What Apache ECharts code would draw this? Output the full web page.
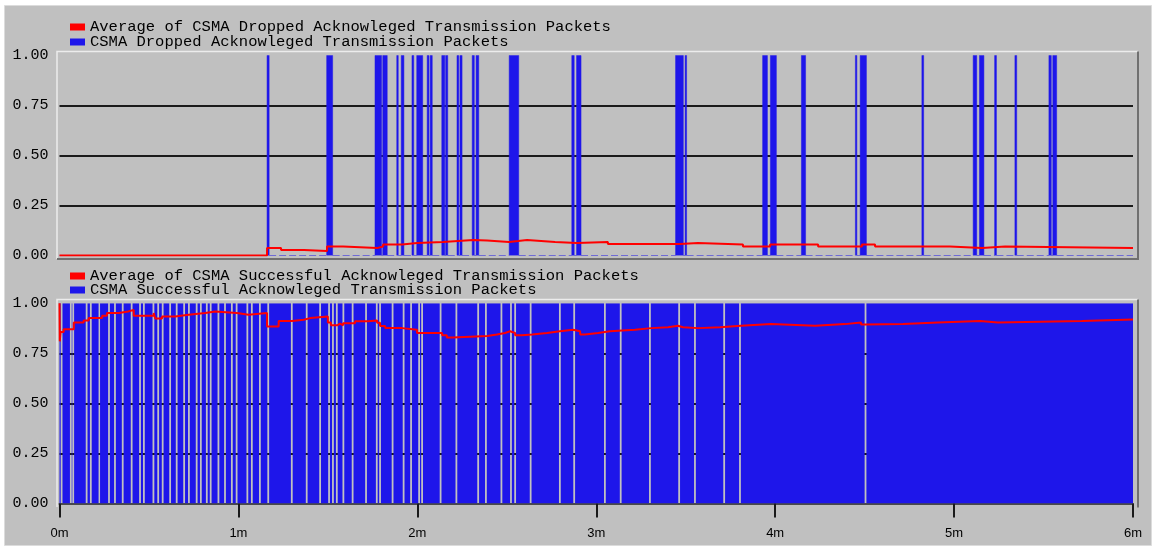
<!DOCTYPE html>
<html>
<head>
<meta charset="utf-8">
<script src="https://cdn.jsdelivr.net/npm/echarts@6/dist/echarts.min.js"></script>
<style>
  html, body { margin: 0; padding: 0; background: #ffffff; }
  #chart { width: 1161px; height: 551px; }
</style>
</head>
<body>
<div id="chart"></div>
<script>
// Simulation time is in seconds; the time axis is labelled in minutes.
const timeTicks = ['0m', '1m', '2m', '3m', '4m', '5m', '6m'];
const yTicks = ['0.00', '0.25', '0.50', '0.75', '1.00'];

const droppedAvgName = 'Average of CSMA Dropped Acknowleged Transmission Packets';
const droppedName = 'CSMA Dropped Acknowleged Transmission Packets';
const successAvgName = 'Average of CSMA Successful Acknowleged Transmission Packets';
const successName = 'CSMA Successful Acknowleged Transmission Packets';

// Intervals (s) during which a dropped acknowledged packet is recorded (value 1).
const dropStart = [69.6, 89.6, 105.8, 108.4, 113.1, 114.6, 118.2, 119.8, 123.3, 124.3, 128.2, 129.5,
  133.3, 134.3, 138.4, 139.7, 150.8, 171.8, 173.4, 206.6, 209.8, 235.8, 238.4, 248.8, 266.9, 268.5,
  289.2, 306.4, 308.5, 313.6, 320.4, 331.8, 333.1];
const dropEnd = [70.3, 91.6, 108.0, 109.9, 113.6, 115.5, 118.8, 121.8, 123.9, 125.0, 129.2, 130.2,
  133.9, 135.0, 139.1, 140.6, 154.0, 172.6, 174.9, 209.2, 210.3, 237.4, 240.4, 250.2, 267.4, 270.6,
  289.8, 307.6, 310.0, 314.2, 321.0, 332.6, 334.4];

// Running average of dropped packets: time (s) of each change and the new value.
const dropAvgTime = [0, 69.6, 74.3, 82.0, 89.7, 95.1, 106.5, 108.5, 114.9, 119.9, 128.6, 138.7, 143.4,
  150.7, 153.8, 156.8, 166.2, 173.5, 183.9, 208.1, 214.1, 229.2, 238.3, 254.4, 269.1, 273.5, 298.6,
  309.4, 317.1, 360];
const dropAvgValue = [0, 0.038, 0.028, 0.022, 0.045, 0.037, 0.045, 0.055, 0.062, 0.068, 0.077, 0.075, 0.068,
  0.072, 0.077, 0.068, 0.062, 0.068, 0.058, 0.062, 0.055, 0.045, 0.055, 0.045, 0.055, 0.045, 0.037,
  0.045, 0.037, 0.037];

// Intervals (s) with no successful acknowledged transmission (value 0); 1 elsewhere.
const okGapStart = [0.4, 3.5, 4.3, 8.8, 10.2, 13.1, 16.3, 18.3, 20.9, 23.9, 26.7, 28.0, 31.2, 32.8, 34.3,
  36.8, 39.0, 41.5, 43.1, 45.7, 47.1, 49.1, 50.4, 53.0, 55.2, 57.5, 59.1, 62.7, 64.2, 66.9, 69.7, 77.6,
  82.6, 87.1, 90.1, 91.4, 92.7, 94.9, 98.0, 102.5, 106.1, 107.2, 111.4, 115.1, 117.6, 120.3, 121.3,
  127.5, 132.8, 140.1, 142.7, 147.9, 151.1, 152.5, 157.7, 167.5, 172.3, 182.6, 187.9, 197.7, 207.5,
  212.8, 222.6, 227.9, 270.0];
const okGapEnd = [1.0, 4.1, 4.9, 9.4, 10.8, 13.6, 16.9, 18.9, 21.5, 24.5, 27.3, 28.6, 31.8, 33.4, 34.9,
  37.4, 39.6, 42.1, 43.7, 46.3, 47.7, 49.7, 51.0, 53.6, 55.8, 58.1, 59.7, 63.3, 64.8, 67.5, 70.3, 78.2,
  83.2, 87.7, 90.7, 92.0, 93.3, 95.5, 98.6, 103.1, 106.7, 107.8, 112.0, 115.7, 118.2, 120.9, 121.9,
  128.1, 133.4, 140.7, 143.3, 148.5, 151.7, 153.1, 158.3, 168.1, 172.9, 183.2, 188.5, 198.3, 208.1,
  213.4, 223.2, 228.5, 270.6];

// Running average of successful packets: time (s) of each change and the new value.
const okAvgTime = [0, 0.1, 0.35, 1.4, 4.8, 8.1, 9.8, 14.3, 15.9, 19.9, 23.0, 24.9, 31.6, 32.1, 34.4,
  38.8, 43.3, 48.9, 52.2, 59.5, 63.4, 69.6, 73.5, 78.0, 81.9, 84.1, 90.0, 91.0, 93.1, 94.1, 95.1, 99.1,
  103.5, 106.5, 107.5, 109.2, 114.9, 119.9, 128.3, 129.9, 131.9, 143.4, 146.7, 149.4, 151.1, 152.8,
  155.1, 158.5, 163.5, 167.8, 172.2, 174.6, 176.2, 180.6, 184.6, 193.0, 198.4, 204.1, 207.4, 209.1,
  214.1, 221.5, 228.5, 238.6, 253.4, 263.4, 268.8, 270.5, 282.9, 294.6, 308.7, 314.7, 342.9, 360];
const okAvgValue = [1.0, 0.81, 0.857, 0.871, 0.904, 0.914, 0.926, 0.938, 0.951, 0.959, 0.967, 0.938,
  0.951, 0.924, 0.934, 0.943, 0.951, 0.959, 0.951, 0.943, 0.951, 0.884, 0.912, 0.918, 0.926, 0.934,
  0.904, 0.89, 0.898, 0.89, 0.9, 0.91, 0.914, 0.903, 0.886, 0.876, 0.868, 0.852, 0.84, 0.829, 0.837,
  0.844, 0.852, 0.86, 0.852, 0.84, 0.844, 0.852, 0.86, 0.868, 0.86, 0.844, 0.852, 0.86, 0.868, 0.876,
  0.88, 0.888, 0.88, 0.876, 0.88, 0.888, 0.896, 0.888, 0.896, 0.904, 0.894, 0.896, 0.904, 0.912,
  0.904, 0.912, 0.919, 0.919];

const END = 360;

// Turn on/off intervals into consecutive [from, to, value] segments covering 0..END.
function segments(starts, ends, base, level) {
  const segs = [];
  let t = 0;
  for (let i = 0; i < starts.length; i++) {
    if (starts[i] > t) segs.push([t, starts[i], base]);
    segs.push([starts[i], ends[i], level]);
    t = ends[i];
  }
  if (t < END) segs.push([t, END, base]);
  return segs;
}
// Sample-and-hold trace: each value is held until the next change time.
function holdSteps(times, values) {
  const pts = [];
  for (let i = 0; i < times.length; i++) {
    if (i > 0) pts.push([times[i], values[i - 1]]);
    pts.push([times[i], values[i]]);
  }
  return pts;
}

const droppedSegs = segments(dropStart, dropEnd, 0, 1);
const successSegs = segments(okGapStart, okGapEnd, 1, 0);
const droppedAvgData = holdSteps(dropAvgTime, dropAvgValue);
const successAvgData = holdSteps(okAvgTime, okAvgValue);

const RED = '#ff0000';
const BLUE = '#1e16ea';
const MONO = 'Liberation Mono';

// Panel geometry (pixels)
const PLOT_L = 59.5, PLOT_W = 1073.5;
const TOP_Y = 55.3, BOT_Y = 303.3, PLOT_H = 200.2;
const BOX_L = 57, BOX_R = 1138;

// Draws a sample-and-hold segment: a filled block for non-zero values,
// and optionally a dashed trace along the zero level.
function segmentRenderer(dashedZero) {
  return function (params, api) {
    const t0 = api.value(0), t1 = api.value(1), v = api.value(2);
    const top = api.coord([t0, v]);
    const bot = api.coord([t1, 0]);
    if (v > 0) {
      return {
        type: 'rect',
        shape: { x: top[0], y: top[1], width: bot[0] - top[0], height: bot[1] - top[1] },
        style: { fill: BLUE, stroke: dashedZero ? BLUE : null, lineWidth: 0.5 }
      };
    }
    if (dashedZero) {
      return {
        type: 'line',
        shape: { x1: top[0], y1: bot[1], x2: bot[0], y2: bot[1] },
        style: { stroke: BLUE, lineWidth: 1.2, lineDash: [7, 3] }
      };
    }
    return null;
  };
}

function yAxisFor(grid) {
  return {
    type: 'value', gridIndex: grid, min: 0, max: 1, interval: 0.25,
    axisLine: { show: false }, axisTick: { show: false },
    axisLabel: {
      margin: 11, color: '#000', fontFamily: MONO, fontSize: 15,
      formatter: v => yTicks[Math.round(v / 0.25)]
    },
    splitLine: {
      show: true, showMinLine: false, showMaxLine: false,
      lineStyle: { color: '#1a1a1a', width: 2 }
    }
  };
}

function legendFor(top, names, gap) {
  return {
    orient: 'vertical', left: 65, top: top, icon: 'rect',
    itemWidth: 15, itemHeight: 7, itemGap: gap, selectedMode: false,
    data: names,
    textStyle: { fontFamily: MONO, fontSize: 15.5, color: '#000' }
  };
}

const chart = echarts.init(document.getElementById('chart'), null, { renderer: 'canvas' });

chart.setOption({
  animation: false,
  backgroundColor: '#ffffff',
  grid: [
    { left: PLOT_L, top: TOP_Y, width: PLOT_W, height: PLOT_H },
    { left: PLOT_L, top: BOT_Y, width: PLOT_W, height: PLOT_H }
  ],
  legend: [
    legendFor(14, [droppedAvgName, droppedName], -1),
    legendFor(263, [successAvgName, successName], -2)
  ],
  xAxis: [
    {
      type: 'value', gridIndex: 0, min: 0, max: END, interval: 60,
      axisLine: { show: false }, axisTick: { show: false }, axisLabel: { show: false },
      splitLine: { show: false }
    },
    {
      type: 'value', gridIndex: 1, min: 0, max: END, interval: 60, offset: 4,
      axisLine: { show: true, lineStyle: { color: '#4a4a4a', width: 2 } },
      axisTick: { show: true, length: 14, lineStyle: { color: '#1a1a1a', width: 2 } },
      axisLabel: {
        margin: 19, color: '#000', fontFamily: 'Liberation Sans', fontSize: 13,
        formatter: v => timeTicks[Math.round(v / 60)]
      },
      splitLine: { show: false }
    }
  ],
  yAxis: [yAxisFor(0), yAxisFor(1)],
  graphic: [
    // gray frame
    { type: 'rect', z: -100, silent: true,
      shape: { x: 4.5, y: 5.5, width: 1147, height: 540 },
      style: { fill: '#c0c0c0', stroke: '#dcdcdc', lineWidth: 1 } },
    // top panel box
    { type: 'polyline', silent: true, z: 1,
      shape: { points: [[BOX_L, 259], [BOX_L, 51.5], [BOX_R, 51.5]] },
      style: { stroke: '#ececec', lineWidth: 1.5, fill: null } },
    { type: 'polyline', silent: true, z: 1,
      shape: { points: [[BOX_L, 259], [BOX_R, 259], [BOX_R, 51.5]] },
      style: { stroke: '#707070', lineWidth: 2, fill: null } },
    // bottom panel box
    { type: 'polyline', silent: true, z: 1,
      shape: { points: [[BOX_L, 507], [BOX_L, 299.5], [BOX_R, 299.5]] },
      style: { stroke: '#ececec', lineWidth: 1.5, fill: null } },
    { type: 'polyline', silent: true, z: 1,
      shape: { points: [[BOX_R, 299.5], [BOX_R, 507.5]] },
      style: { stroke: '#707070', lineWidth: 2, fill: null } }
  ],
  series: [
    {
      name: droppedName, type: 'custom', xAxisIndex: 0, yAxisIndex: 0,
      renderItem: segmentRenderer(true), data: droppedSegs,
      encode: { x: [0, 1], y: 2 }, itemStyle: { color: BLUE }, clip: true, z: 2
    },
    {
      name: droppedAvgName, type: 'line', xAxisIndex: 0, yAxisIndex: 0,
      data: droppedAvgData, showSymbol: false, z: 3,
      itemStyle: { color: RED },
      lineStyle: { color: RED, width: 2 }
    },
    {
      name: successName, type: 'custom', xAxisIndex: 1, yAxisIndex: 1,
      renderItem: segmentRenderer(false), data: successSegs,
      encode: { x: [0, 1], y: 2 }, itemStyle: { color: BLUE }, clip: true, z: 2
    },
    {
      name: successAvgName, type: 'line', xAxisIndex: 1, yAxisIndex: 1,
      data: successAvgData, showSymbol: false, z: 3,
      itemStyle: { color: RED },
      lineStyle: { color: RED, width: 2 }
    }
  ]
});
</script>
</body>
</html>
